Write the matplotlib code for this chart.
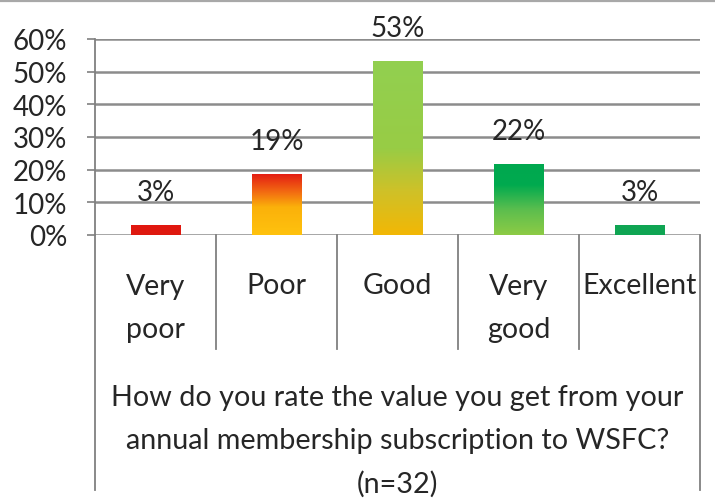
import matplotlib

matplotlib.use("Agg")
import matplotlib.pyplot as plt
import numpy as np
from matplotlib.colors import LinearSegmentedColormap

categories = ["Very\npoor", "Poor", "Good", "Very\ngood", "Excellent"]
counts = [1, 6, 17, 7, 1]
n_total = 32
yticks = [0, 10, 20, 30, 40, 50, 60]
title = (
    "How do you rate the value you get from your\n"
    "annual membership subscription to WSFC?\n"
    "(n=32)"
)

# colour stops for each bar, bottom (0) to top (1)
bar_gradients = [
    [(0.0, "#DE1A10"), (1.0, "#E2170F")],
    [(0.0, "#FFC20E"), (0.45, "#FBB10A"), (0.7, "#F26A12"), (1.0, "#E31A14")],
    [(0.0, "#F2B705"), (0.25, "#CFC128"), (0.5, "#98CC45"), (1.0, "#92D050")],
    [(0.0, "#8DCB45"), (0.35, "#5CBE4E"), (0.7, "#00AA4F"), (1.0, "#00A84F")],
    [(0.0, "#10A553"), (1.0, "#0FA553")],
]

plt.rcParams["font.family"] = ["Lato", "DejaVu Sans"]
text_color = "#262626"
grid_color = "#8C8C8C"

pct = [100 * c / n_total for c in counts]
x = np.arange(len(categories))
width = 0.41

W, H = 715, 502
fig = plt.figure(figsize=(W / 100, H / 100), dpi=100)
ax = fig.add_axes([95 / W, 1 - 236 / H, 605 / W, 196 / H])

bars = ax.bar(x, pct, width=width, color="none", zorder=3)
for bar, stops in zip(bars, bar_gradients):
    cmap = LinearSegmentedColormap.from_list("g", stops)
    grad = np.linspace(1, 0, 200).reshape(-1, 1)
    x0 = bar.get_x()
    img = ax.imshow(
        grad,
        cmap=cmap,
        vmin=0,
        vmax=1,
        aspect="auto",
        extent=(x0, x0 + bar.get_width(), 0, bar.get_height()),
        zorder=3,
    )
    img.set_clip_path(bar)

for xi, p in zip(x, pct):
    ax.annotate(
        "{:.0f}%".format(p),
        (xi, p),
        xytext=(0, 18),
        textcoords="offset points",
        ha="center",
        va="baseline",
        fontsize=20,
        color=text_color,
        zorder=4,
        annotation_clip=False,
    )

ax.set_xlim(-0.5, len(categories) - 0.5)
ax.set_ylim(0, 60)
ax.set_yticks(yticks)
ax.set_yticklabels(["{}%".format(t) for t in yticks], fontsize=20, color=text_color)
ax.set_xticks(x)
ax.set_xticklabels(categories, fontsize=20.5, color=text_color, linespacing=1.85)
ax.tick_params(axis="x", length=0, pad=27)
ax.tick_params(axis="y", length=6, width=1.2, color="#808080", pad=14)

ax.grid(axis="y", color=grid_color, linewidth=1.8, zorder=0)
ax.set_axisbelow(True)
for side in ["top", "right", "bottom"]:
    ax.spines[side].set_visible(False)
ax.spines["left"].set_color("#808080")
ax.spines["left"].set_linewidth(1.3)

# table-like lines below the axis
bottom = -1.3
ax.plot([-0.5, -0.5], [0, bottom * 60], color="#808080", lw=1.3, clip_on=False)
ax.plot([4.5, 4.5], [0, bottom * 60], color="#808080", lw=1.3, clip_on=False)
for xs in x[:-1] + 0.5:
    ax.plot([xs, xs], [0, -0.58 * 60], color="#808080", lw=1.3, clip_on=False)

fig.text(
    397.5 / W,
    1 - 385 / H,
    title,
    ha="center",
    va="top",
    fontsize=20.7,
    color=text_color,
    linespacing=1.8,
)

# grey rule along the top edge
fig.add_artist(
    plt.Line2D([0, 1], [1 - 1.5 / H, 1 - 1.5 / H], color="#A8A8A8", lw=1.6)
)

fig.savefig("out.png", dpi=100)
